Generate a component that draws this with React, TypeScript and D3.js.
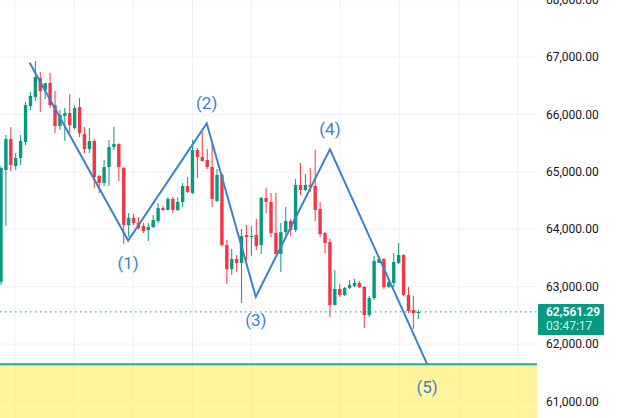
import React from "react";
import * as d3 from "d3";

// OHLC candles (oldest first)
const opens = [
  63085, 65033, 65573, 65103, 65242, 65520, 66148, 66304, 66636, 66427,
  66549, 66165, 65799, 65974, 66026, 65765, 66130, 65660, 65399, 65538,
  64929, 64807, 65085, 65434, 65486, 65068, 64075, 64197, 64110, 64057,
  63988, 64040, 64145, 64371, 64336, 64528, 64336, 64476, 64754, 64633,
  65381, 65260, 65207, 65085, 64493, 64946, 63727, 63308, 63483, 63413,
  63900, 63866, 63900, 63727, 64545, 64476, 63935, 63570, 63950, 64145,
  63988, 64772, 64685, 64772, 64754, 64354, 63935, 63779, 62681, 62960,
  62856, 62978, 63013, 63065, 62995, 62507, 62803, 63413, 63483, 62995,
  63065, 63413, 63552, 62856, 62594, 62542,
];
const highs = [
  65100, 65643, 65782, 65329, 65643, 66217, 66392, 66932, 66740, 66549,
  66723, 66409, 66078, 66113, 66357, 66165, 66287, 65782, 65765, 65573,
  64946, 65207, 65555, 65782, 65500, 65085, 64284, 64267, 64214, 64110,
  64110, 64249, 64458, 64406, 64563, 64563, 64563, 64807, 64911, 65555,
  65416, 65695, 65399, 65520, 65050, 64981, 63814, 63657, 63552, 64005,
  64075, 64057, 64180, 64563, 64720, 64633, 64633, 64110, 64389, 64180,
  64876, 65155, 64963, 65068, 65381, 64476, 63953, 63831, 63291, 63047,
  62995, 63117, 63134, 63100, 63013, 62838, 63535, 63518, 63500, 63117,
  63587, 63762, 63570, 62995, 62838, 62594,
];
const lows = [
  63030, 64057, 65016, 65033, 65120, 65468, 66078, 66235, 66043, 66270,
  66113, 65677, 65730, 65538, 65677, 65740, 65608, 65329, 65329, 64720,
  64633, 64755, 64755, 65381, 64842, 63744, 63866, 64075, 64000, 63935,
  63796, 64023, 64110, 64318, 64336, 64284, 64318, 64389, 64633, 64615,
  64894, 65190, 65050, 64389, 64476, 63700, 63047, 63204, 63256, 62716,
  63413, 63535, 63639, 63570, 64284, 63866, 63570, 63256, 63900, 63883,
  63953, 64598, 64668, 64650, 64145, 63866, 63587, 62472, 62681, 62821,
  62838, 62960, 62995, 62978, 62281, 62472, 62768, 63413, 62960, 62978,
  62995, 63395, 62838, 62542, 62263, 62438,
];
const closes = [
  65068, 65573, 65120, 65242, 65538, 66165, 66322, 66653, 66409, 66549,
  66165, 65799, 65991, 66026, 65817, 66113, 65678, 65399, 65538, 64911,
  64807, 65085, 65434, 65486, 65085, 64075, 64197, 64110, 64023, 63970,
  64040, 64162, 64371, 64336, 64528, 64336, 64476, 64754, 64650, 65381,
  65260, 65190, 65085, 64528, 64946, 63727, 63308, 63483, 63413, 63883,
  63866, 63883, 63709, 64545, 64476, 63935, 63570, 63950, 64145, 63988,
  64772, 64685, 64772, 64737, 64336, 63918, 63762, 62681, 62960, 62856,
  62978, 63030, 63065, 62995, 62507, 62803, 63448, 63483, 62995, 63082,
  63430, 63552, 62856, 62577, 62542, 62561.29,
];

// Elliott wave pivots (candle index, price) and their labels
const waveIdx = [5.8, 25.9, 41.9, 51.9, 67.0, 86.8];
const wavePrice = [66905, 63805, 65846, 62826, 65392, 61650];
const waveLabels = ["", "(1)", "(2)", "(3)", "(4)", "(5)"];
const labelBelow = [false, true, false, true, false, true];

const priceTicks = [61000, 62000, 63000, 64000, 65000, 66000, 67000, 68000];
const timeGrid = [2.85, 14.9, 26.9, 39, 51, 69.1, 81.1, 93.3, 105.3];

const lastPrice = 62561.29;
const countdown = "03:47:17";
const zoneTop = 61650;

const W = 624;
const H = 418;
const plotRight = 537;

const up = "#089981";
const down = "#f23645";
const waveColor = "#3c82cb";

const fmt = d3.format(",.2f");

export default function App() {
  const x = d3.scaleLinear().domain([0, 85]).range([1, 418.3]);
  const y = d3.scaleLinear().domain([61000, 68000]).range([401.5, -0.3]);

  const wave = waveIdx.map((d, i) => [x(d), y(wavePrice[i])] as [number, number]);
  const wavePath = d3.line()(wave) || "";

  const bodyW = 3.4;
  const ly = y(lastPrice);

  return (
    <svg
      width={W}
      height={H}
      style={{ position: "absolute", left: 0, top: 0, background: "#fff" }}
      fontFamily="Roboto, sans-serif"
    >
      {/* grid */}
      {priceTicks.map((p) => (
        <line key={p} x1={0} x2={plotRight} y1={y(p)} y2={y(p)} stroke="#eef0f3" />
      ))}
      {timeGrid.map((t) => (
        <line key={t} x1={x(t)} x2={x(t)} y1={0} y2={H} stroke="#eef0f3" />
      ))}

      {/* candles */}
      {opens.map((o, i) => {
        const c = closes[i];
        const col = c >= o ? up : down;
        const top = y(Math.max(o, c));
        const h = Math.max(1, y(Math.min(o, c)) - top);
        return (
          <g key={i}>
            <line x1={x(i)} x2={x(i)} y1={y(highs[i])} y2={y(lows[i])} stroke={col} strokeWidth={1} />
            <rect x={x(i) - bodyW / 2} y={top} width={bodyW} height={h} fill={col} />
          </g>
        );
      })}

      {/* target zone */}
      <rect x={0} y={y(zoneTop)} width={plotRight} height={H - y(zoneTop)} fill="rgba(255,235,59,0.5)" />
      <line x1={0} x2={plotRight} y1={y(zoneTop)} y2={y(zoneTop)} stroke="#22ab94" strokeWidth={2} />

      {/* last price line */}
      <line x1={0} x2={plotRight} y1={ly} y2={ly} stroke={up} strokeDasharray="1.5 3.5" />

      {/* wave */}
      <path d={wavePath} fill="none" stroke={waveColor} strokeWidth={2} strokeLinejoin="miter" />
      {wave.map(([wx, wy], i) =>
        waveLabels[i] ? (
          <text
            key={i}
            x={wx}
            y={labelBelow[i] ? wy + 23 : wy - 20}
            textAnchor="middle"
            dominantBaseline="central"
            fontSize={17}
            fill={waveColor}
          >
            {waveLabels[i]}
          </text>
        ) : null
      )}

      {/* price axis */}
      {priceTicks.map((p) => (
        <text key={p} x={546} y={y(p)} dominantBaseline="central" fontSize={12} fill="#131722">
          {fmt(p)}
        </text>
      ))}
      <rect x={538} y={ly - 8} width={66} height={31} fill={up} rx={1} />
      <text x={546} y={ly} dominantBaseline="central" fontSize={12} fontWeight={600} fill="#fff">
        {fmt(lastPrice)}
      </text>
      <text x={546} y={ly + 14} dominantBaseline="central" fontSize={12} fill="rgba(255,255,255,0.85)">
        {countdown}
      </text>
    </svg>
  );
}
